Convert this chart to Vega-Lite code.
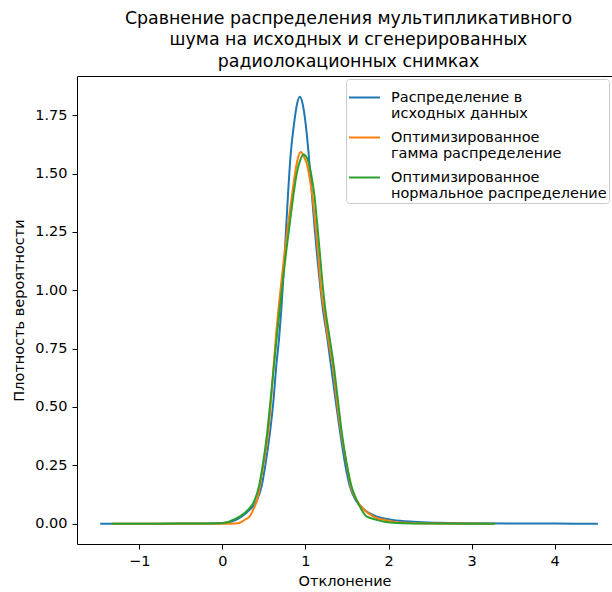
{
  "$schema": "https://vega.github.io/schema/vega-lite/v6.json",
  "autosize": "none",
  "width": 535,
  "height": 468,
  "padding": {"left": 77, "top": 76, "right": 0, "bottom": 48},
  "title": {
    "text": ["Сравнение распределения мультипликативного", "шума на исходных и сгенерированных", "радиолокационных снимках"],
    "fontSize": 17.4,
    "font": "DejaVu Sans",
    "fontWeight": "normal",
    "color": "#000",
    "anchor": "middle",
    "lineHeight": 21.5,
    "offset": 6,
    "dx": 4
  },
  "data": {
    "values": [
      {"g": "Распределение в\nисходных данных", "x": -1.47, "y": 0},
      {"g": "Распределение в\nисходных данных", "x": -1.0, "y": 0},
      {"g": "Распределение в\nисходных данных", "x": -0.5, "y": 0.0005},
      {"g": "Распределение в\nисходных данных", "x": -0.2, "y": 0.001},
      {"g": "Распределение в\nисходных данных", "x": 0.0, "y": 0.003},
      {"g": "Распределение в\nисходных данных", "x": 0.1, "y": 0.008},
      {"g": "Распределение в\nисходных данных", "x": 0.15, "y": 0.014},
      {"g": "Распределение в\nисходных данных", "x": 0.23, "y": 0.03},
      {"g": "Распределение в\nисходных данных", "x": 0.33, "y": 0.06},
      {"g": "Распределение в\nисходных данных", "x": 0.419, "y": 0.103},
      {"g": "Распределение в\nисходных данных", "x": 0.472, "y": 0.16},
      {"g": "Распределение в\nисходных данных", "x": 0.515, "y": 0.246},
      {"g": "Распределение в\nисходных данных", "x": 0.572, "y": 0.389},
      {"g": "Распределение в\nисходных данных", "x": 0.616, "y": 0.531},
      {"g": "Распределение в\nисходных данных", "x": 0.648, "y": 0.674},
      {"g": "Распределение в\nисходных данных", "x": 0.684, "y": 0.8},
      {"g": "Распределение в\nисходных данных", "x": 0.71, "y": 0.92},
      {"g": "Распределение в\nисходных данных", "x": 0.735, "y": 1.06},
      {"g": "Распределение в\nисходных данных", "x": 0.76, "y": 1.22},
      {"g": "Распределение в\nисходных данных", "x": 0.79, "y": 1.41},
      {"g": "Распределение в\nисходных данных", "x": 0.82, "y": 1.574},
      {"g": "Распределение в\nисходных данных", "x": 0.864, "y": 1.717},
      {"g": "Распределение в\nисходных данных", "x": 0.9, "y": 1.8},
      {"g": "Распределение в\nисходных данных", "x": 0.933, "y": 1.829},
      {"g": "Распределение в\nисходных данных", "x": 0.965, "y": 1.8},
      {"g": "Распределение в\nисходных данных", "x": 1.001, "y": 1.717},
      {"g": "Распределение в\nисходных данных", "x": 1.041, "y": 1.574},
      {"g": "Распределение в\nисходных данных", "x": 1.073, "y": 1.432},
      {"g": "Распределение в\nисходных данных", "x": 1.105, "y": 1.289},
      {"g": "Распределение в\nисходных данных", "x": 1.141, "y": 1.146},
      {"g": "Распределение в\nисходных данных", "x": 1.181, "y": 1.005},
      {"g": "Распределение в\nисходных данных", "x": 1.215, "y": 0.905},
      {"g": "Распределение в\nисходных данных", "x": 1.254, "y": 0.817},
      {"g": "Распределение в\nисходных данных", "x": 1.31, "y": 0.67},
      {"g": "Распределение в\nисходных данных", "x": 1.362, "y": 0.531},
      {"g": "Распределение в\nисходных данных", "x": 1.418, "y": 0.389},
      {"g": "Распределение в\nисходных данных", "x": 1.482, "y": 0.246},
      {"g": "Распределение в\nисходных данных", "x": 1.534, "y": 0.16},
      {"g": "Распределение в\nисходных данных", "x": 1.606, "y": 0.1},
      {"g": "Распределение в\nисходных данных", "x": 1.715, "y": 0.058},
      {"g": "Распределение в\nисходных данных", "x": 1.855, "y": 0.031},
      {"g": "Распределение в\nисходных данных", "x": 2.05, "y": 0.016},
      {"g": "Распределение в\nисходных данных", "x": 2.3, "y": 0.008},
      {"g": "Распределение в\nисходных данных", "x": 2.6, "y": 0.004},
      {"g": "Распределение в\nисходных данных", "x": 3.0, "y": 0.002},
      {"g": "Распределение в\nисходных данных", "x": 3.5, "y": 0.001},
      {"g": "Распределение в\nисходных данных", "x": 4.0, "y": 0.0003},
      {"g": "Распределение в\nисходных данных", "x": 4.52, "y": 0},

      {"g": "Оптимизированное\nгамма распределение", "x": -1.33, "y": 0},
      {"g": "Оптимизированное\nгамма распределение", "x": 0.0, "y": 0},
      {"g": "Оптимизированное\nгамма распределение", "x": 0.15, "y": 0.001},
      {"g": "Оптимизированное\nгамма распределение", "x": 0.21, "y": 0.004},
      {"g": "Оптимизированное\nгамма распределение", "x": 0.27, "y": 0.017},
      {"g": "Оптимизированное\nгамма распределение", "x": 0.33, "y": 0.031},
      {"g": "Оптимизированное\nгамма распределение", "x": 0.371, "y": 0.06},
      {"g": "Оптимизированное\nгамма распределение", "x": 0.419, "y": 0.103},
      {"g": "Оптимизированное\nгамма распределение", "x": 0.451, "y": 0.16},
      {"g": "Оптимизированное\nгамма распределение", "x": 0.491, "y": 0.246},
      {"g": "Оптимизированное\nгамма распределение", "x": 0.551, "y": 0.389},
      {"g": "Оптимизированное\nгамма распределение", "x": 0.587, "y": 0.531},
      {"g": "Оптимизированное\nгамма распределение", "x": 0.616, "y": 0.674},
      {"g": "Оптимизированное\nгамма распределение", "x": 0.648, "y": 0.817},
      {"g": "Оптимизированное\nгамма распределение", "x": 0.69, "y": 0.97},
      {"g": "Оптимизированное\nгамма распределение", "x": 0.744, "y": 1.146},
      {"g": "Оптимизированное\nгамма распределение", "x": 0.79, "y": 1.28},
      {"g": "Оптимизированное\nгамма распределение", "x": 0.835, "y": 1.4},
      {"g": "Оптимизированное\nгамма распределение", "x": 0.87, "y": 1.49},
      {"g": "Оптимизированное\nгамма распределение", "x": 0.905, "y": 1.56},
      {"g": "Оптимизированное\nгамма распределение", "x": 0.945, "y": 1.592},
      {"g": "Оптимизированное\nгамма распределение", "x": 0.985, "y": 1.57},
      {"g": "Оптимизированное\nгамма распределение", "x": 1.025, "y": 1.53},
      {"g": "Оптимизированное\nгамма распределение", "x": 1.055, "y": 1.47},
      {"g": "Оптимизированное\nгамма распределение", "x": 1.085, "y": 1.4},
      {"g": "Оптимизированное\nгамма распределение", "x": 1.12, "y": 1.28},
      {"g": "Оптимизированное\nгамма распределение", "x": 1.155, "y": 1.145},
      {"g": "Оптимизированное\nгамма распределение", "x": 1.19, "y": 1.0},
      {"g": "Оптимизированное\nгамма распределение", "x": 1.23, "y": 0.9},
      {"g": "Оптимизированное\nгамма распределение", "x": 1.27, "y": 0.8},
      {"g": "Оптимизированное\nгамма распределение", "x": 1.33, "y": 0.674},
      {"g": "Оптимизированное\nгамма распределение", "x": 1.376, "y": 0.531},
      {"g": "Оптимизированное\nгамма распределение", "x": 1.43, "y": 0.389},
      {"g": "Оптимизированное\nгамма распределение", "x": 1.5, "y": 0.246},
      {"g": "Оптимизированное\nгамма распределение", "x": 1.545, "y": 0.16},
      {"g": "Оптимизированное\nгамма распределение", "x": 1.614, "y": 0.103},
      {"g": "Оптимизированное\nгамма распределение", "x": 1.7, "y": 0.062},
      {"g": "Оптимизированное\nгамма распределение", "x": 1.815, "y": 0.031},
      {"g": "Оптимизированное\nгамма распределение", "x": 1.976, "y": 0.014},
      {"g": "Оптимизированное\nгамма распределение", "x": 2.2, "y": 0.004},
      {"g": "Оптимизированное\nгамма распределение", "x": 2.5, "y": 0.001},
      {"g": "Оптимизированное\nгамма распределение", "x": 3.28, "y": 0},

      {"g": "Оптимизированное\nнормальное распределение", "x": -1.33, "y": 0},
      {"g": "Оптимизированное\nнормальное распределение", "x": -1.0, "y": 0},
      {"g": "Оптимизированное\nнормальное распределение", "x": -0.5, "y": 0.0005},
      {"g": "Оптимизированное\nнормальное распределение", "x": -0.1, "y": 0.001},
      {"g": "Оптимизированное\nнормальное распределение", "x": 0.05, "y": 0.005},
      {"g": "Оптимизированное\nнормальное распределение", "x": 0.13, "y": 0.017},
      {"g": "Оптимизированное\nнормальное распределение", "x": 0.21, "y": 0.031},
      {"g": "Оптимизированное\nнормальное распределение", "x": 0.31, "y": 0.06},
      {"g": "Оптимизированное\nнормальное распределение", "x": 0.391, "y": 0.103},
      {"g": "Оптимизированное\nнормальное распределение", "x": 0.44, "y": 0.16},
      {"g": "Оптимизированное\nнормальное распределение", "x": 0.484, "y": 0.246},
      {"g": "Оптимизированное\nнормальное распределение", "x": 0.539, "y": 0.389},
      {"g": "Оптимизированное\nнормальное распределение", "x": 0.58, "y": 0.531},
      {"g": "Оптимизированное\nнормальное распределение", "x": 0.62, "y": 0.674},
      {"g": "Оптимизированное\nнормальное распределение", "x": 0.66, "y": 0.817},
      {"g": "Оптимизированное\nнормальное распределение", "x": 0.7, "y": 0.95},
      {"g": "Оптимизированное\nнормальное распределение", "x": 0.74, "y": 1.08},
      {"g": "Оптимизированное\nнормальное распределение", "x": 0.78, "y": 1.2},
      {"g": "Оптимизированное\nнормальное распределение", "x": 0.82, "y": 1.31},
      {"g": "Оптимизированное\nнормальное распределение", "x": 0.86, "y": 1.42},
      {"g": "Оптимизированное\nнормальное распределение", "x": 0.895, "y": 1.5},
      {"g": "Оптимизированное\nнормальное распределение", "x": 0.93, "y": 1.55},
      {"g": "Оптимизированное\nнормальное распределение", "x": 0.977, "y": 1.582},
      {"g": "Оптимизированное\nнормальное распределение", "x": 1.02, "y": 1.565},
      {"g": "Оптимизированное\nнормальное распределение", "x": 1.05, "y": 1.53},
      {"g": "Оптимизированное\nнормальное распределение", "x": 1.08, "y": 1.475},
      {"g": "Оптимизированное\nнормальное распределение", "x": 1.11, "y": 1.4},
      {"g": "Оптимизированное\nнормальное распределение", "x": 1.14, "y": 1.29},
      {"g": "Оптимизированное\nнормальное распределение", "x": 1.173, "y": 1.16},
      {"g": "Оптимизированное\nнормальное распределение", "x": 1.205, "y": 1.03},
      {"g": "Оптимизированное\nнормальное распределение", "x": 1.235, "y": 0.93},
      {"g": "Оптимизированное\nнормальное распределение", "x": 1.282, "y": 0.817},
      {"g": "Оптимизированное\nнормальное распределение", "x": 1.342, "y": 0.674},
      {"g": "Оптимизированное\nнормальное распределение", "x": 1.39, "y": 0.531},
      {"g": "Оптимизированное\nнормальное распределение", "x": 1.438, "y": 0.389},
      {"g": "Оптимизированное\nнормальное распределение", "x": 1.502, "y": 0.246},
      {"g": "Оптимизированное\nнормальное распределение", "x": 1.554, "y": 0.16},
      {"g": "Оптимизированное\nнормальное распределение", "x": 1.614, "y": 0.103},
      {"g": "Оптимизированное\nнормальное распределение", "x": 1.675, "y": 0.06},
      {"g": "Оптимизированное\nнормальное распределение", "x": 1.735, "y": 0.031},
      {"g": "Оптимизированное\nнормальное распределение", "x": 1.855, "y": 0.017},
      {"g": "Оптимизированное\nнормальное распределение", "x": 1.95, "y": 0.008},
      {"g": "Оптимизированное\nнормальное распределение", "x": 2.1, "y": 0.003},
      {"g": "Оптимизированное\nнормальное распределение", "x": 2.4, "y": 0.001},
      {"g": "Оптимизированное\nнормальное распределение", "x": 3.28, "y": 0}
    ]
  },
  "layer": [
    {
      "mark": {"type": "line", "strokeWidth": 2, "interpolate": "monotone"},
      "encoding": {
        "x": {
          "field": "x", "type": "quantitative",
          "scale": {"domain": [-1.75, 4.69], "nice": false, "zero": false},
          "axis": {"values": [-1, 0, 1, 2, 3, 4], "format": "d", "title": "Отклонение"}
        },
        "y": {
          "field": "y", "type": "quantitative",
          "scale": {"domain": [-0.087, 1.918], "nice": false, "zero": false},
          "axis": {"values": [0, 0.25, 0.5, 0.75, 1, 1.25, 1.5, 1.75], "format": ".2f", "title": "Плотность вероятности"}
        },
        "color": {
          "field": "g", "type": "nominal",
          "scale": {
            "domain": ["Распределение в\nисходных данных", "Оптимизированное\nгамма распределение", "Оптимизированное\nнормальное распределение"],
            "range": ["#1f77b4", "#ff7f0e", "#2ca02c"]
          },
          "legend": {
            "orient": "none", "legendX": 269, "legendY": 3, "direction": "vertical",
            "title": null,
            "labelExpr": "split(datum.label, '\\n')",
            "symbolType": "stroke", "symbolSize": 961, "symbolStrokeWidth": 2,
            "labelFontSize": 14.5, "labelFont": "DejaVu Sans", "labelColor": "#000",
            "labelOffset": 10, "rowPadding": 0, "padding": 2, "labelLimit": 400,
            "fillColor": "rgba(255,255,255,0.8)", "strokeColor": "#cccccc", "cornerRadius": 3
          }
        }
      }
    },
    {
      "mark": {"type": "line", "opacity": 0},
      "encoding": {
        "x": {"field": "x", "type": "quantitative", "axis": {"orient": "top", "labels": false, "ticks": false, "title": null, "domain": true}},
        "y": {"field": "y", "type": "quantitative"}
      }
    }
  ],
  "resolve": {"axis": {"x": "independent"}},
  "config": {
    "font": "DejaVu Sans",
    "view": {"stroke": null},
    "axis": {
      "domainColor": "#000", "domainWidth": 1, "tickColor": "#000", "tickWidth": 1, "tickSize": 5,
      "labelPadding": 5, "labelFontSize": 14.5, "labelColor": "#000", "labelFont": "DejaVu Sans",
      "titleFontSize": 14.5, "titleFontWeight": "normal", "titleColor": "#000", "titleFont": "DejaVu Sans",
      "grid": false
    },
    "axisX": {"titlePadding": 7},
    "axisY": {"titlePadding": 8}
  }
}
